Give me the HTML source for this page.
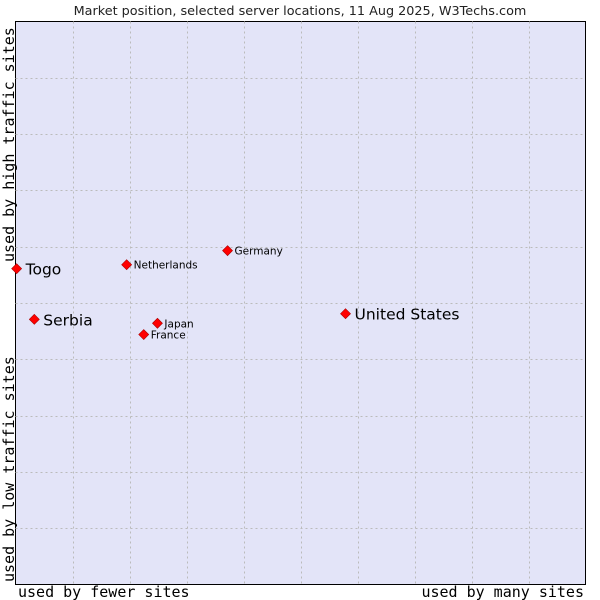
<!DOCTYPE html>
<html><head><meta charset="utf-8"><style>
body{margin:0;background:#fff;width:600px;height:600px;overflow:hidden}
svg{display:block}
</style></head><body>
<svg id="chart" width="600" height="600">
<text x="300" y="15" text-anchor="middle" font-family="DejaVu Sans, sans-serif" font-size="12.8" fill="#222">Market position, selected server locations, 11 Aug 2025, W3Techs.com</text>
<rect x="15.5" y="21.5" width="570" height="563" fill="#e3e4f8" stroke="#000" stroke-width="1"/>
<g id="grid"></g>
<g id="marks"></g>
<text x="18" y="597" font-family="DejaVu Sans Mono, monospace" font-size="15" fill="#000">used by fewer sites</text>
<text x="584" y="597" text-anchor="end" font-family="DejaVu Sans Mono, monospace" font-size="15" fill="#000">used by many sites</text>
<text transform="translate(14,582) rotate(-90)" font-family="DejaVu Sans Mono, monospace" font-size="15" fill="#000">used by low traffic sites</text>
<text transform="translate(14,262) rotate(-90)" font-family="DejaVu Sans Mono, monospace" font-size="15" fill="#000">used by high traffic sites</text>
</svg>
<script>
const names=["Togo","Serbia","Netherlands","Germany","Japan","France","United States"];
const xVals=[0.2,3.3,19.5,37.2,24.9,22.5,57.9];
const yVals=[56.1,47.1,56.8,59.3,46.4,44.4,48.1];
const big=[true,true,false,false,false,false,true];
const L=15.5,T=21.5,W=570,H=563;
const sx=v=>L+v/100*W, sy=v=>T+H-v/100*H;
const NS="http://www.w3.org/2000/svg";
const grid=document.getElementById('grid'),marks=document.getElementById('marks');
for(let i=1;i<10;i++){
 const v=document.createElementNS(NS,'line');
 v.setAttribute('x1',Math.round(sx(i*10))+0.5);v.setAttribute('x2',Math.round(sx(i*10))+0.5);
 v.setAttribute('y1',T);v.setAttribute('y2',T+H);
 v.setAttribute('stroke','#bbb');v.setAttribute('stroke-dasharray','2,3');
 
 
 grid.appendChild(v);
 const h=document.createElementNS(NS,'line');
 h.setAttribute('y1',Math.round(sy(i*10))+0.5);h.setAttribute('y2',Math.round(sy(i*10))+0.5);
 h.setAttribute('x1',L);h.setAttribute('x2',L+W);
 h.setAttribute('stroke','#bbb');h.setAttribute('stroke-dasharray','2,3');
 
 
 grid.appendChild(h);
}
names.forEach((n,i)=>{
 const x=sx(xVals[i]),y=sy(yVals[i]);
 const p=document.createElementNS(NS,'polygon');
 p.setAttribute('points',`${x},${y-5} ${x+5},${y} ${x},${y+5} ${x-5},${y}`);
 p.setAttribute('fill','#f00');p.setAttribute('stroke','#a00');p.setAttribute('stroke-width','0.6');
 
 
 marks.appendChild(p);
 const t=document.createElementNS(NS,'text');
 t.setAttribute('x',x+(big[i]?9:7));t.setAttribute('y',y+(big[i]?6:4));
 t.setAttribute('font-family','DejaVu Sans, sans-serif');
 t.setAttribute('font-size',big[i]?'15.5':'10.5');
 t.textContent=n;
 
 
 marks.appendChild(t);
});
</script>
</body></html>
